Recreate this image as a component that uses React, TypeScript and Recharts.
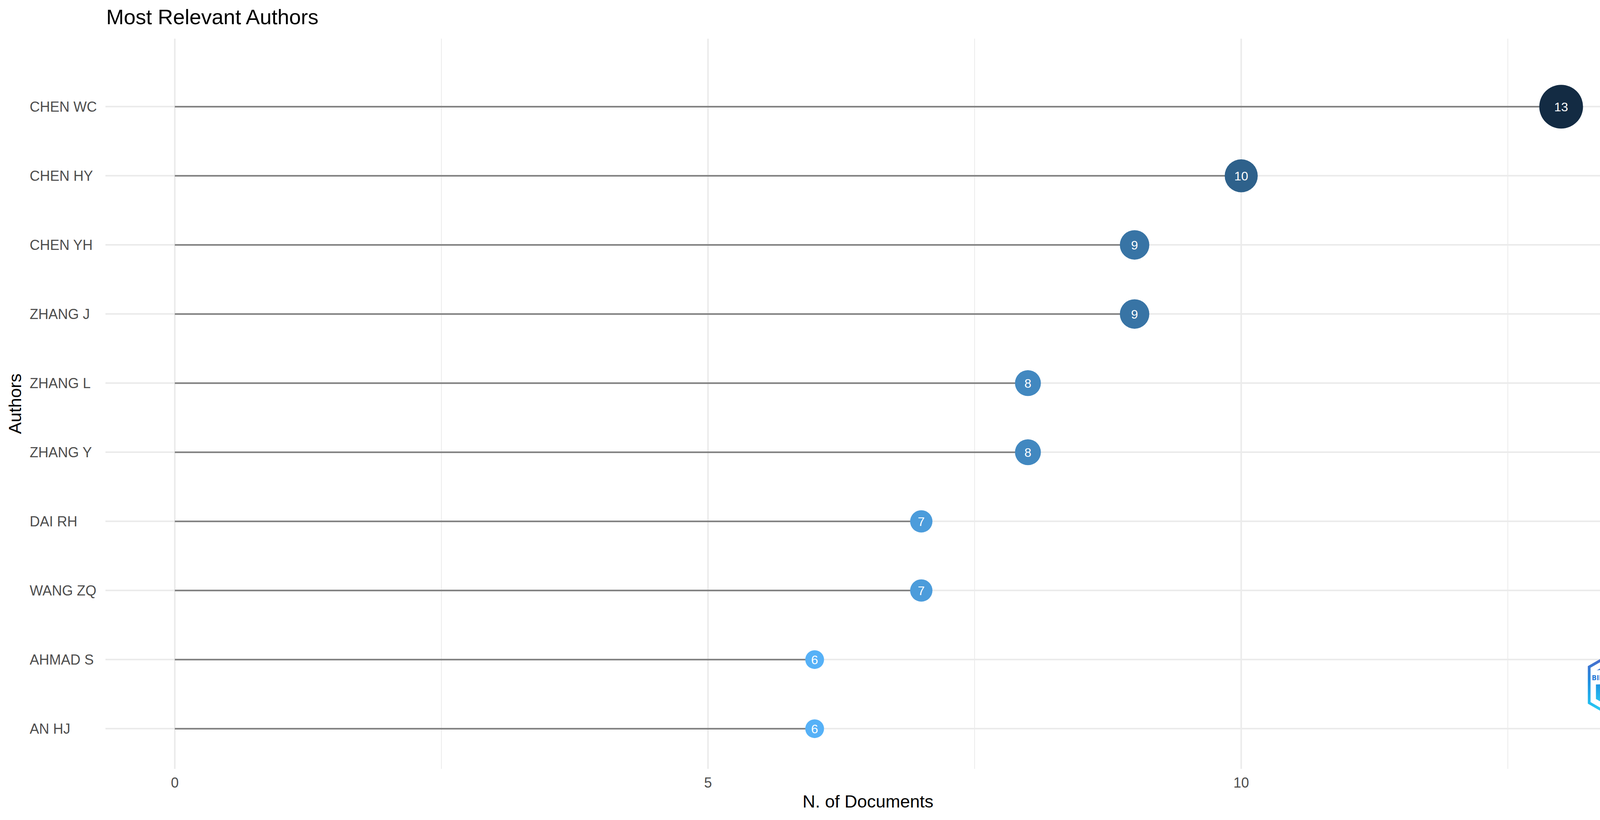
import React from "react";
import { BarChart, Bar, XAxis, YAxis, CartesianGrid } from "recharts";

const authors = ["CHEN WC", "CHEN HY", "CHEN YH", "ZHANG J", "ZHANG L", "ZHANG Y", "DAI RH", "WANG ZQ", "AHMAD S", "AN HJ"];
const documents = [13, 10, 9, 9, 8, 8, 7, 7, 6, 6];
const majorTicks = [0, 5, 10];
const minorTicks = [2.5, 7.5, 12.5];

const FONT = "'Liberation Sans', Arial, Helvetica, sans-serif";
const LOW = "#56B1F7";
const HIGH = "#132B43";

// --- colour scale (Lab interpolation, like ggplot's gradient) ---
function hexToRgb(h: string) {
  const n = parseInt(h.slice(1), 16);
  return [(n >> 16) & 255, (n >> 8) & 255, n & 255];
}
function toLin(c: number) {
  c /= 255;
  return c <= 0.04045 ? c / 12.92 : Math.pow((c + 0.055) / 1.055, 2.4);
}
function fromLin(c: number) {
  const v = c <= 0.0031308 ? 12.92 * c : 1.055 * Math.pow(c, 1 / 2.4) - 0.055;
  return Math.max(0, Math.min(255, Math.round(v * 255)));
}
const WX = 0.95047, WY = 1, WZ = 1.08883;
function f(t: number) {
  return t > 0.008856 ? Math.cbrt(t) : 7.787 * t + 16 / 116;
}
function fi(t: number) {
  return t > 0.206893 ? t * t * t : (t - 16 / 116) / 7.787;
}
function hexToLab(h: string) {
  const [r, g, b] = hexToRgb(h).map(toLin);
  const x = (0.4124 * r + 0.3576 * g + 0.1805 * b) / WX;
  const y = (0.2126 * r + 0.7152 * g + 0.0722 * b) / WY;
  const z = (0.0193 * r + 0.1192 * g + 0.9505 * b) / WZ;
  return [116 * f(y) - 16, 500 * (f(x) - f(y)), 200 * (f(y) - f(z))];
}
function labToHex([L, a, bb]: number[]) {
  const fy = (L + 16) / 116;
  const x = fi(fy + a / 500) * WX;
  const y = fi(fy) * WY;
  const z = fi(fy - bb / 200) * WZ;
  const r = 3.2406 * x - 1.5372 * y - 0.4986 * z;
  const g = -0.9689 * x + 1.8758 * y + 0.0415 * z;
  const b = 0.0557 * x - 0.204 * y + 1.057 * z;
  return "#" + [r, g, b].map((c) => fromLin(c).toString(16).padStart(2, "0")).join("");
}
const minV = Math.min(...documents);
const maxV = Math.max(...documents);
const labLow = hexToLab(LOW);
const labHigh = hexToLab(HIGH);
function colorFor(v: number) {
  const t = (v - minV) / (maxV - minV);
  return labToHex(labLow.map((c, i) => c + (labHigh[i] - c) * t));
}
function radiusFor(v: number) {
  const t = (v - minV) / (maxV - minV);
  return 24 + t * 32;
}

const data = authors.map((a, i) => ({ author: a, docs: documents[i] }));

function Lollipop(props: any) {
  const { x, y, width, height, payload } = props;
  const cy = y + height / 2;
  const v = payload.docs;
  return (
    <g>
      <line x1={x} x2={x + width} y1={cy} y2={cy} stroke="#7f7f7f" strokeWidth={4} />
      <circle cx={x + width} cy={cy} r={radiusFor(v)} fill={colorFor(v)} />
      <text
        x={x + width}
        y={cy}
        dy="0.36em"
        textAnchor="middle"
        fill="#ffffff"
        fontSize={32}
        fontFamily={FONT}
      >
        {v}
      </text>
    </g>
  );
}

function YTick(props: any) {
  const { y, payload } = props;
  return (
    <text x={76} y={y} dy="0.35em" textAnchor="start" fill="#4d4d4d" fontSize={36} fontFamily={FONT}>
      {payload.value}
    </text>
  );
}

function XTick(props: any) {
  const { x, y, payload } = props;
  return (
    <text x={x} y={y + 48} textAnchor="middle" fill="#4d4d4d" fontSize={36} fontFamily={FONT}>
      {payload.value}
    </text>
  );
}

// bibliometrix badge, cut at the panel's right edge like in the original
function Logo() {
  return (
    <svg width={140} height={200} style={{ position: "absolute", left: 4060, top: 1655 }}>
      <defs>
        <linearGradient id="bx" x1="0" y1="0" x2="0" y2="1">
          <stop offset="0%" stopColor="#5b5cc4" />
          <stop offset="45%" stopColor="#1f8fe0" />
          <stop offset="100%" stopColor="#27e0fb" />
        </linearGradient>
        <clipPath id="bxclip">
          <rect x={0} y={0} width={117} height={200} />
        </clipPath>
      </defs>
      <g clipPath="url(#bxclip)">
        <polygon
          points="88,7 167.7,53 167.7,145 88,191 8.3,145 8.3,53"
          fill="none"
          stroke="url(#bx)"
          strokeWidth={7}
        />
        <polygon points="88,27 150.4,63 150.4,135 88,171 25.6,135 25.6,63" fill="url(#bx)" />
        <polygon points="24,62 120,54 175,50 175,92 24,98" fill="#ffffff" />
        <circle cx={88} cy={56} r={9} fill="#ffffff" />
        <polygon points="74,96 102,96 108,160 66,165" fill="#ffffff" />
        <polygon points="98,112 175,100 175,108 98,120" fill="#ffffff" />
        <polygon points="98,137 175,125 175,133 98,145" fill="#ffffff" />
        <polygon points="66,155 175,142 175,150 66,163" fill="#ffffff" />
      </g>
      <text
        x={15}
        y={87}
        fill="#2b7ad6"
        fontSize={18}
        fontWeight={700}
        textLength={100}
        lengthAdjust="spacingAndGlyphs"
        fontFamily="'DejaVu Sans', sans-serif"
      >
        BIBLIOMET
      </text>
    </svg>
  );
}

export default function App() {
  return (
    <div style={{ position: "absolute", left: 0, top: 0, width: 4200, height: 2100, background: "#fff" }}>
      <div
        style={{
          position: "absolute",
          left: 272,
          top: 12,
          fontFamily: FONT,
          fontSize: 54,
          color: "#000",
          lineHeight: "62px",
          whiteSpace: "nowrap",
        }}
      >
        Most Relevant Authors
      </div>
      <div style={{ position: "absolute", left: 0, top: 0 }}>
        <BarChart
          width={4200}
          height={2100}
          data={data}
          layout="vertical"
          margin={{ top: 99, right: 26, bottom: 0, left: 0 }}
        >
          <CartesianGrid stroke="#ebebeb" strokeWidth={4} syncWithTicks />
          <CartesianGrid xAxisId="minor" stroke="#ebebeb" strokeWidth={2} horizontal={false} syncWithTicks />
          <XAxis
            type="number"
            domain={[-0.65, 13.65]}
            allowDataOverflow
            ticks={majorTicks}
            axisLine={false}
            tickLine={false}
            tickSize={0}
            tickMargin={0}
            height={131}
            tick={<XTick />}
            label={{
              content: (p: any) => {
                const vb = p.viewBox;
                return (
                  <text x={vb.x + vb.width / 2} y={2068} textAnchor="middle" fill="#000" fontSize={45} fontFamily={FONT}>
                    N. of Documents
                  </text>
                );
              },
            }}
          />
          <XAxis xAxisId="minor" type="number" domain={[-0.65, 13.65]} allowDataOverflow ticks={minorTicks} hide />
          <YAxis
            type="category"
            dataKey="author"
            width={270}
            axisLine={false}
            tickLine={false}
            padding={{ top: 85.5, bottom: 14.5 }}
            tick={<YTick />}
            label={{
              content: (p: any) => {
                const vb = p.viewBox;
                const cy = vb.y + vb.height / 2;
                return (
                  <text
                    x={54}
                    y={cy}
                    transform={`rotate(-90, 54, ${cy})`}
                    textAnchor="middle"
                    fill="#000"
                    fontSize={45}
                    fontFamily={FONT}
                  >
                    Authors
                  </text>
                );
              },
            }}
          />
          <Bar dataKey="docs" shape={<Lollipop />} isAnimationActive={false} />
        </BarChart>
      </div>
      <Logo />
    </div>
  );
}
